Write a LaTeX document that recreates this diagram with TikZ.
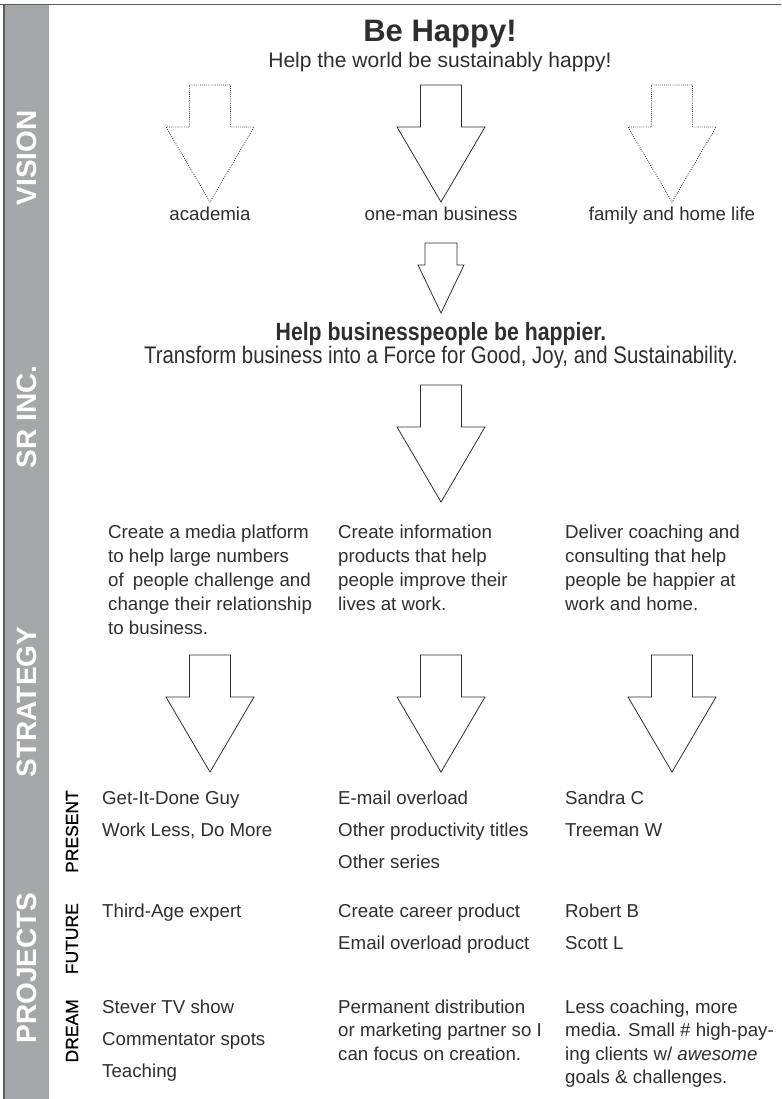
\documentclass[tikz,border=0pt]{standalone}
\usepackage{fontspec}
\setmainfont{Liberation Sans}
\newfontfamily\narrowfont[FakeStretch=0.85]{Liberation Sans}
\newfontfamily\rowfont[FakeBold=0.8]{Liberation Sans}
\usepackage{xcolor}
\usetikzlibrary{positioning,calc}

\definecolor{bandgray}{HTML}{A6A7AA}
\definecolor{ink}{HTML}{2E2E2E}
\definecolor{framegray}{HTML}{5C5C5C}

% block arrow: [style]{centre x}{top y}
\newcommand{\blockarrow}[3][solid]{%
  \draw[arrowline,#1] (#2-20.5,#3) -- (#2+20.5,#3) -- (#2+20.5,#3+42)
    -- (#2+44,#3+42) -- (#2,#3+117) -- (#2-44,#3+42) -- (#2-20.5,#3+42) -- cycle;}

\begin{document}
\begin{tikzpicture}[x=1pt, y=-1pt,
    every node/.style={inner sep=0pt, text=ink},
    body/.style={font=\fontsize{18.7}{23}\selectfont, anchor=base west},
    bandlabel/.style={font=\bfseries\fontsize{28}{28}\selectfont, text=white, rotate=90},
    rowlabel/.style={font=\rowfont\fontsize{17.5}{17.5}\selectfont, text=black, rotate=90, anchor=east},
    arrowline/.style={draw=ink, line width=0.8pt, line join=miter},
    dots/.style={dash pattern=on 0.8pt off 1.3pt}]

    \useasboundingbox (0,0) rectangle (781,1099);

    % Side band and frame
    \fill[bandgray] (4.5,5) rectangle (49,1099);
    \draw[framegray, line width=1.5pt] (0,4.5) -- (781,4.5);
    \draw[framegray, line width=1.2pt] (4,4.5) -- (4,1099);

    % Band labels
    \node[bandlabel] (vision) at (27,158) {VISION};
    \node[bandlabel] (srinc) at (27,417) {SR INC.};
    \node[bandlabel] (strategy) at (27,702) {STRATEGY};
    \node[bandlabel] (projects) at (27,968) {PROJECTS};

    % Title
    \node[font=\bfseries\fontsize{31}{31}\selectfont, anchor=base] (title) at (440,42) {Be Happy!};
    \node[font=\fontsize{21}{21}\selectfont, anchor=base] (motto) at (440,68) {Help the world be sustainably happy!};

    % Vision
    \blockarrow[dots]{210}{85}
    \blockarrow{441}{85}
    \blockarrow[dots]{672}{85}
    \node[body, anchor=base] (academia) at (210,221) {academia};
    \node[body, anchor=base] (business) at (441,221) {one-man business};
    \node[body, anchor=base] (family) at (672,221) {family and home life};

    % SR Inc.
    \draw[arrowline] (425,243) -- (457,243) -- (457,265) -- (464,265) -- (441,313)
        -- (418,265) -- (425,265) -- cycle;
    \node[font=\narrowfont\bfseries\fontsize{25}{25}\selectfont, anchor=base] (mission) at (441,340) {Help businesspeople be happier.};
    \node[font=\narrowfont\fontsize{24}{24}\selectfont, anchor=base] (transform) at (441,363) {Transform business into a Force for Good, Joy, and Sustainability.};
    \blockarrow{441}{385}

    % Strategy
    \foreach \txt [count=\i] in {Create a media platform, to help large numbers,
        of\hspace{4pt} people challenge and, change their relationship, to business.}
        \node[body] at (108,{538+24*(\i-1)}) {\txt};
    \foreach \txt [count=\i] in {Create information, products that help,
        people improve their, lives at work.}
        \node[body] at (338,{538+24*(\i-1)}) {\txt};
    \foreach \txt [count=\i] in {Deliver coaching and, consulting that help,
        people be happier at, work and home.}
        \node[body] at (565,{538+24*(\i-1)}) {\txt};
    \foreach \x in {210,441,672}
        {\blockarrow{\x}{655}}

    % Projects
    \node[rowlabel] (present) at (72,790) {PRESENT};
    \node[rowlabel] (future) at (72,903) {FUTURE};
    \node[rowlabel] (dream) at (72,999) {DREAM};

    \foreach \txt [count=\i] in {Get-It-Done Guy, {Work Less, Do More}}
        \node[body] at (102,{804+32*(\i-1)}) {\txt};
    \foreach \txt [count=\i] in {E-mail overload, Other productivity titles, Other series}
        \node[body] at (338,{804+32*(\i-1)}) {\txt};
    \foreach \txt [count=\i] in {Sandra C, Treeman W}
        \node[body] at (565,{804+32*(\i-1)}) {\txt};

    \node[body] (thirdage) at (102,917) {Third-Age expert};
    \foreach \txt [count=\i] in {Create career product, Email overload product}
        \node[body] at (338,{917+32*(\i-1)}) {\txt};
    \foreach \txt [count=\i] in {Robert B, Scott L}
        \node[body] at (565,{917+32*(\i-1)}) {\txt};

    \foreach \txt [count=\i] in {Stever TV show, Commentator spots, Teaching}
        \node[body] at (102,{1013+32*(\i-1)}) {\txt};
    \foreach \txt [count=\i] in {Permanent distribution, or marketing partner so I,
        can focus on creation.}
        \node[body] at (338,{1013+23.5*(\i-1)}) {\txt};
    \foreach \txt [count=\i] in {{Less coaching, more}, media. Small \# high-pay-,
        ing clients w/ \textit{awesome}, goals \& challenges.}
        \node[body] at (565,{1013+23.5*(\i-1)}) {\txt};
\end{tikzpicture}
\end{document}
